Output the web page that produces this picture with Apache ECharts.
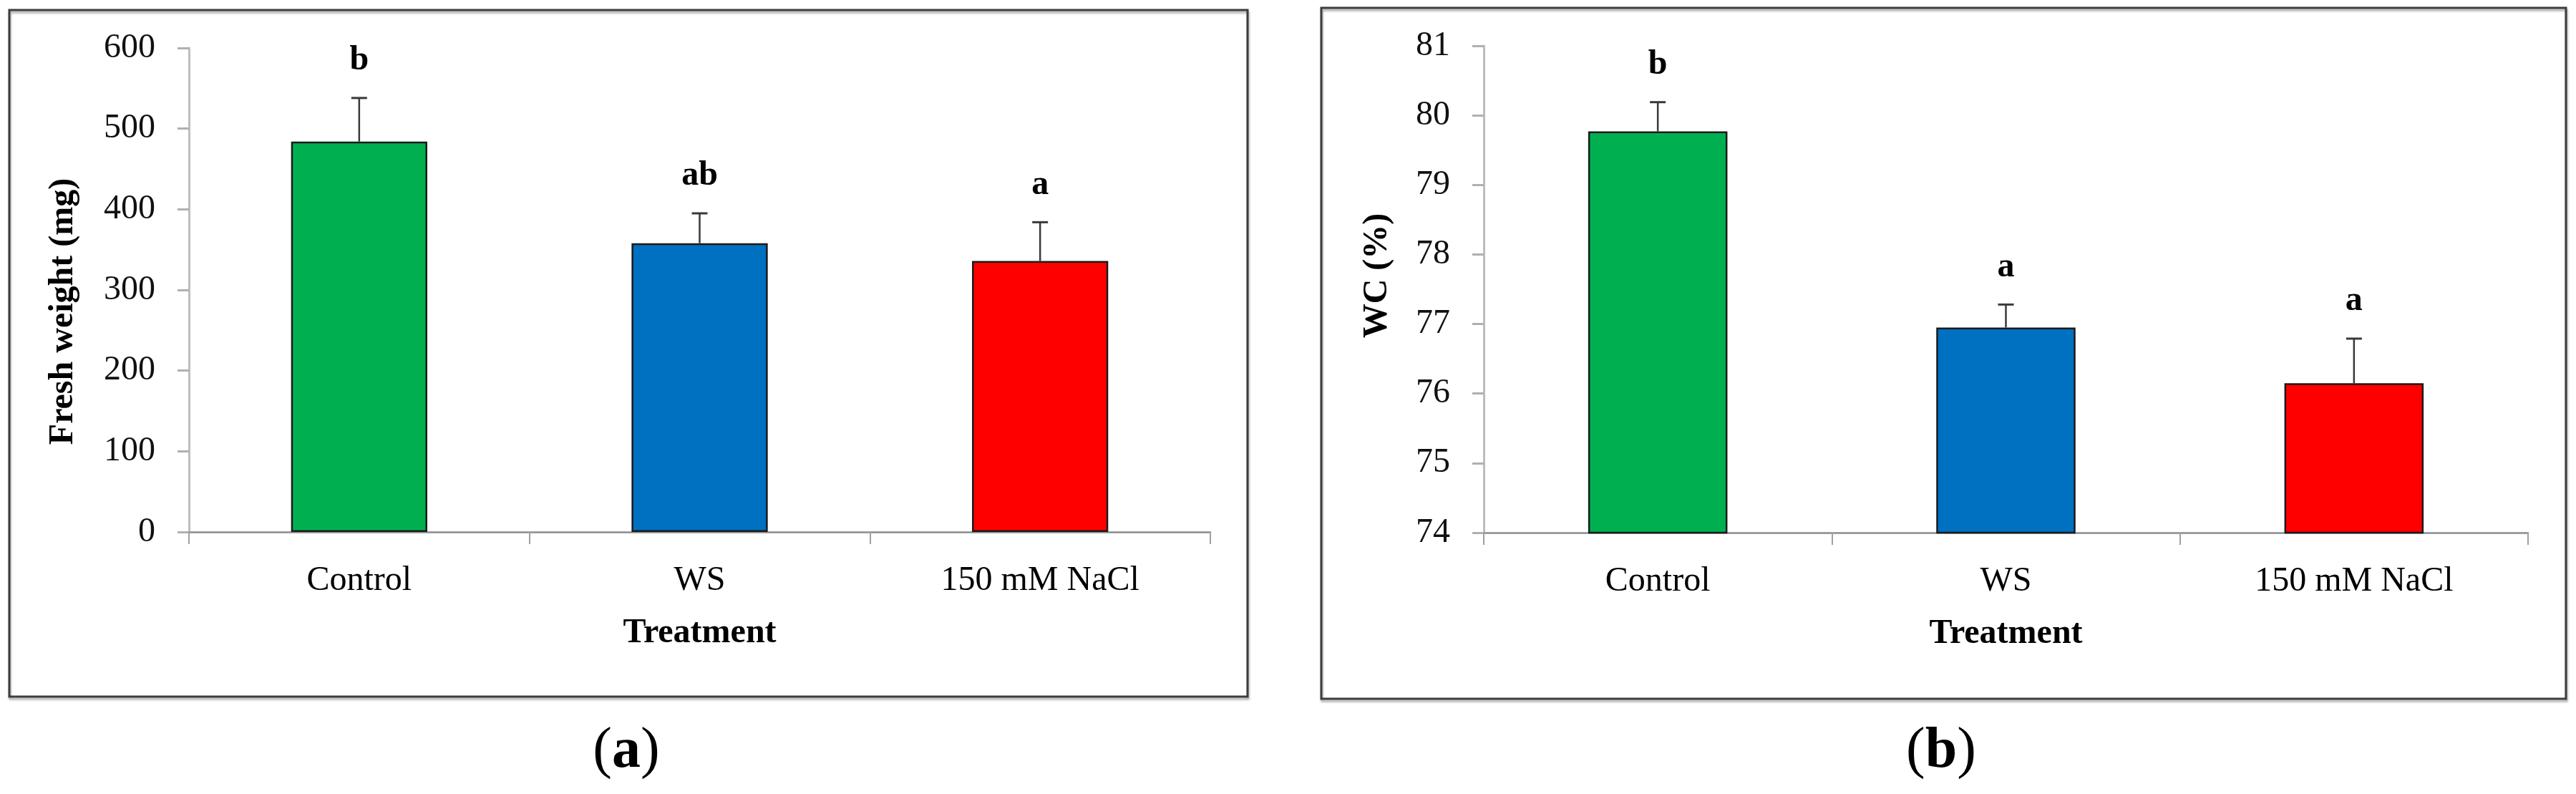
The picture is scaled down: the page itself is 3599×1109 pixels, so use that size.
<!DOCTYPE html>
<html>
<head>
<meta charset="utf-8">
<script src="https://cdn.jsdelivr.net/npm/echarts@6/dist/echarts.min.js"></script>
<style>
  html, body { margin: 0; padding: 0; background: #fff; }
  #main { width: 3599px; height: 1109px; }
</style>
</head>
<body>
<div id="main"></div>
<script>
// data
const categories = ['Control', 'WS', '150 mM NaCl'];
const barColors = ['#00B050', '#0070C0', '#FF0000'];

const freshMean = [484, 358, 336];
const freshErr = [54, 37, 48];
const freshLetters = ['b', 'ab', 'a'];

const wcMean = [79.77, 76.95, 76.15];
const wcErr = [0.42, 0.33, 0.64];
const wcLetters = ['b', 'a', 'a'];

const FONT = '"Liberation Serif", "Times New Roman", serif';

const myChart = echarts.init(document.getElementById('main'));
window.addEventListener('resize', function () {
  myChart.resize();
});

function barData(values) {
  return values.map(function (v, i) {
    return { value: v, itemStyle: { color: barColors[i] } };
  });
}

function errData(mean, err) {
  return mean.map(function (m, i) {
    return [i, m, err[i]];
  });
}

// error bar + significance letter
function errorBars(letters) {
  return function (params, api) {
    const i = api.value(0);
    const base = api.coord([i, api.value(1)]);
    const top = api.coord([i, api.value(1) + api.value(2)]);
    return {
      type: 'group',
      children: [
        {
          type: 'line',
          shape: { x1: base[0], y1: base[1], x2: top[0], y2: top[1] },
          style: { stroke: '#3a3a3a', lineWidth: 2.5 }
        },
        {
          type: 'line',
          shape: { x1: top[0] - 11, y1: top[1], x2: top[0] + 11, y2: top[1] },
          style: { stroke: '#3a3a3a', lineWidth: 3 }
        },
        {
          type: 'text',
          x: top[0],
          y: top[1] - 28,
          style: {
            text: letters[params.dataIndex],
            fontFamily: FONT,
            fontWeight: 'bold',
            fontSize: 48,
            fill: '#000',
            align: 'center',
            verticalAlign: 'bottom'
          }
        }
      ]
    };
  };
}

function xAxisOf(gridIndex) {
  return {
    type: 'category',
    gridIndex: gridIndex,
    data: categories,
    boundaryGap: true,
    name: 'Treatment',
    nameLocation: 'middle',
    nameGap: 118,
    nameTextStyle: { fontFamily: FONT, fontWeight: 'bold', fontSize: 48, color: '#000' },
    axisLine: { show: true, lineStyle: { color: '#8c8c8c', width: 2.5 } },
    axisTick: { show: true, length: 17, alignWithLabel: false, lineStyle: { color: '#a0a0a0', width: 2 } },
    axisLabel: { margin: 44, fontFamily: FONT, fontSize: 48, color: '#000' },
    splitLine: { show: false }
  };
}

function yAxisOf(gridIndex, min, max, interval) {
  return {
    type: 'value',
    gridIndex: gridIndex,
    min: min,
    max: max,
    interval: interval,
    axisLine: { show: true, lineStyle: { color: '#bdbdbd', width: 3 } },
    axisTick: { show: true, length: 16, lineStyle: { color: '#b0b0b0', width: 3 } },
    axisLabel: { margin: 47, fontFamily: FONT, fontSize: 48, color: '#111' },
    splitLine: { show: false }
  };
}

const frameStyle = {
  fill: 'none',
  stroke: '#3c3c3c',
  lineWidth: 3,
  shadowColor: 'rgba(0,0,0,0.35)',
  shadowBlur: 3,
  shadowOffsetX: 1,
  shadowOffsetY: 3
};

const option = {
  backgroundColor: '#fff',
  animation: false,
  grid: [
    { left: 264, top: 67, width: 1427, height: 676, containLabel: false },
    { left: 2073, top: 64, width: 1459, height: 680, containLabel: false }
  ],
  xAxis: [xAxisOf(0), xAxisOf(1)],
  yAxis: [yAxisOf(0, 0, 600, 100), yAxisOf(1, 74, 81, 1)],
  graphic: [
    { type: 'rect', shape: { x: 13, y: 14, width: 1730, height: 959 }, style: frameStyle, z: 0 },
    { type: 'rect', shape: { x: 1846, y: 11, width: 1739, height: 965 }, style: frameStyle, z: 0 },
    {
      type: 'text', x: 89, y: 435, rotation: Math.PI / 2,
      style: {
        text: 'Fresh weight (mg)', fontFamily: FONT, fontWeight: 'bold', fontSize: 48,
        fill: '#000', align: 'center', verticalAlign: 'middle'
      }
    },
    {
      type: 'text', x: 1925, y: 385, rotation: Math.PI / 2,
      style: {
        text: 'WC (%)', fontFamily: FONT, fontWeight: 'bold', fontSize: 48,
        fill: '#000', align: 'center', verticalAlign: 'middle'
      }
    },
    {
      type: 'text', x: 875, y: 1050,
      style: {
        text: '{p|(}{b|a}{p|)}', align: 'center', verticalAlign: 'middle', fill: '#000',
        rich: {
          p: { fontFamily: FONT, fontSize: 80, fill: '#000' },
          b: { fontFamily: FONT, fontSize: 80, fontWeight: 'bold', fill: '#000' }
        }
      }
    },
    {
      type: 'text', x: 2712, y: 1050,
      style: {
        text: '{p|(}{b|b}{p|)}', align: 'center', verticalAlign: 'middle', fill: '#000',
        rich: {
          p: { fontFamily: FONT, fontSize: 80, fill: '#000' },
          b: { fontFamily: FONT, fontSize: 80, fontWeight: 'bold', fill: '#000' }
        }
      }
    }
  ],
  series: [
    {
      name: 'Fresh weight',
      type: 'bar',
      xAxisIndex: 0,
      yAxisIndex: 0,
      barWidth: '40%',
      itemStyle: { borderColor: '#1a1a1a', borderWidth: 2.5 },
      data: barData(freshMean)
    },
    {
      name: 'Fresh weight error',
      type: 'custom',
      xAxisIndex: 0,
      yAxisIndex: 0,
      z: 5,
      renderItem: errorBars(freshLetters),
      data: errData(freshMean, freshErr)
    },
    {
      name: 'WC',
      type: 'bar',
      xAxisIndex: 1,
      yAxisIndex: 1,
      barWidth: '40%',
      itemStyle: { borderColor: '#1a1a1a', borderWidth: 2.5 },
      data: barData(wcMean)
    },
    {
      name: 'WC error',
      type: 'custom',
      xAxisIndex: 1,
      yAxisIndex: 1,
      z: 5,
      renderItem: errorBars(wcLetters),
      data: errData(wcMean, wcErr)
    }
  ]
};

myChart.setOption(option);
</script>
</body>
</html>
